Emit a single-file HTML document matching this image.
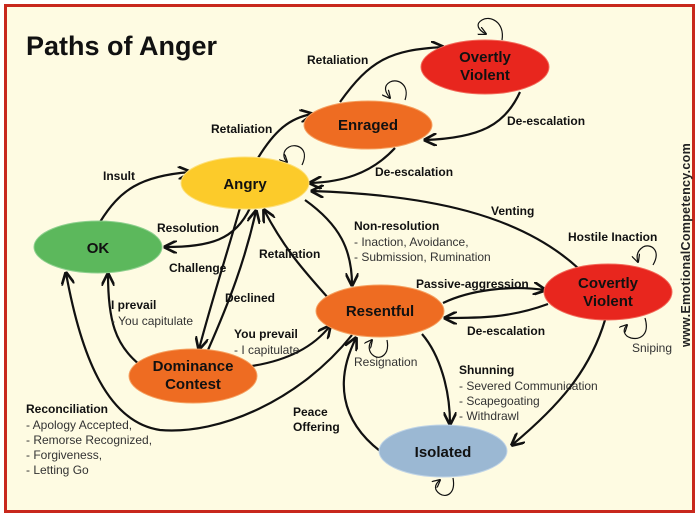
<!DOCTYPE html>
<html><head><meta charset="utf-8"><style>
html,body{margin:0;padding:0;background:#fff}
svg{display:block}
text{font-family:"Liberation Sans",Arial,sans-serif;fill:#111}
.b{font-weight:bold;font-size:12px}
.n{font-size:12px;fill:#333}
.nl{font-weight:bold;font-size:15px;text-anchor:middle}
path.e{fill:none;stroke:#111;stroke-width:2.2}
path.l{fill:none;stroke:#111;stroke-width:1.2}
</style></head><body>
<svg width="699" height="518" viewBox="0 0 699 518" xmlns="http://www.w3.org/2000/svg">
<defs>
<marker id="a" viewBox="0 0 10 10" refX="9" refY="5" markerWidth="6" markerHeight="6" orient="auto"><path d="M0,0 L10,5 L0,10" fill="none" stroke="#111" stroke-width="2"/></marker>
<marker id="s" viewBox="0 0 10 10" refX="9" refY="5" markerWidth="7" markerHeight="7" orient="auto"><path d="M0,0 L10,5 L0,10" fill="none" stroke="#111" stroke-width="1.5"/></marker>
</defs>
<rect x="0" y="0" width="699" height="518" fill="#fff"/>
<rect x="5.5" y="5.5" width="688" height="506" fill="#fefbe2" stroke="#c8281c" stroke-width="3"/>
<text x="26" y="55" style="font-weight:bold;font-size:27px">Paths of Anger</text>
<text transform="translate(690,245) rotate(-90)" style="font-weight:bold;font-size:12.5px;fill:#222;letter-spacing:0.3px" text-anchor="middle">www.EmotionalCompetency.com</text>

<g marker-end="url(#a)">
<path class="e" d="M100,222 C120,190 140,176 190,172"/>
<path class="e" d="M250,208 C235,240 210,247 165,247"/>
<path class="e" d="M258,158 C275,130 290,118 312,114"/>
<path class="e" d="M340,102 C370,60 390,50 443,47"/>
<path class="e" d="M520,92 C505,125 480,138 425,140"/>
<path class="e" d="M395,148 C370,175 340,182 310,183"/>
<path class="e" d="M578,268 C520,215 430,195 312,191"/>
<path class="e" d="M305,200 C340,225 352,250 352,285"/>
<path class="e" d="M330,300 C305,272 285,250 264,210"/>
<path class="e" d="M240,208 C225,260 212,300 199,349"/>
<path class="e" d="M208,350 C230,300 245,260 256,211"/>
<path class="e" d="M140,365 C115,345 108,320 108,274"/>
<path class="e" d="M252,366 C290,360 315,345 330,326"/>
<path class="e" d="M352,335 C300,400 220,435 160,430 C105,422 80,350 66,273"/>
<path class="e" d="M443,303 C470,290 510,285 545,290"/>
<path class="e" d="M548,304 C510,318 480,318 445,318"/>
<path class="e" d="M422,334 C440,355 450,390 450,424"/>
<path class="e" d="M380,451 C340,420 335,380 356,338"/>
<path class="e" d="M605,320 C590,370 560,405 512,445"/>
</g>
<g marker-end="url(#s)">
<path class="l" d="M502,40 C505,22 490,15 482,20 C475,24 478,30 486,34"/>
<path class="l" d="M405,100 C410,85 398,78 390,82 C383,86 385,92 390,98"/>
<path class="l" d="M302,165 C310,148 296,143 289,147 C282,151 283,158 287,162"/>
<path class="l" d="M653,265 C662,250 650,243 643,247 C637,251 636,256 638,262"/>
<path class="l" d="M645,318 C650,335 640,340 631,338 C624,336 622,330 627,325"/>
<path class="l" d="M387,340 C390,355 380,360 374,356 C368,352 368,345 372,340"/>
<path class="l" d="M453,478 C456,494 446,498 440,494 C434,490 434,485 440,480"/>
</g>

<ellipse cx="485" cy="67" rx="64" ry="27" fill="#e8261e" stroke="#f26a5a" stroke-width="1"/>
<text class="nl" x="485" y="62">Overtly</text><text class="nl" x="485" y="80">Violent</text>
<ellipse cx="368" cy="125" rx="64" ry="24" fill="#ee6c22" stroke="#f5a060" stroke-width="1"/>
<text class="nl" x="368" y="130">Enraged</text>
<ellipse cx="245" cy="183" rx="64" ry="26" fill="#fccb2a" stroke="#fde07a" stroke-width="1"/>
<text class="nl" x="245" y="189">Angry</text>
<ellipse cx="98" cy="247" rx="64" ry="26" fill="#5cb85c" stroke="#8fd08f" stroke-width="1"/>
<text class="nl" x="98" y="253">OK</text>
<ellipse cx="380" cy="311" rx="64" ry="26" fill="#ee6c22" stroke="#f5a060" stroke-width="1"/>
<text class="nl" x="380" y="316">Resentful</text>
<ellipse cx="608" cy="292" rx="64" ry="28" fill="#e8261e" stroke="#f26a5a" stroke-width="1"/>
<text class="nl" x="608" y="288">Covertly</text><text class="nl" x="608" y="306">Violent</text>
<ellipse cx="193" cy="376" rx="64" ry="27" fill="#ee6c22" stroke="#f5a060" stroke-width="1"/>
<text class="nl" x="193" y="371">Dominance</text><text class="nl" x="193" y="389">Contest</text>
<ellipse cx="443" cy="451" rx="64" ry="26" fill="#9bb8d3" stroke="#c0d4e6" stroke-width="1"/>
<text class="nl" x="443" y="457">Isolated</text>

<text class="b" x="307" y="64">Retaliation</text>
<text class="b" x="211" y="133">Retaliation</text>
<text class="b" x="507" y="125">De-escalation</text>
<text class="b" x="375" y="176">De-escalation</text>
<text class="b" x="103" y="180">Insult</text>
<text class="b" x="157" y="232">Resolution</text>
<text class="b" x="491" y="215">Venting</text>
<text class="b" x="354" y="230">Non-resolution</text>
<text class="n" x="354" y="246">- Inaction, Avoidance,</text>
<text class="n" x="354" y="261">- Submission, Rumination</text>
<text class="b" x="568" y="241">Hostile Inaction</text>
<text class="b" x="169" y="272">Challenge</text>
<text class="b" x="259" y="258">Retaliation</text>
<text class="b" x="225" y="302">Declined</text>
<text class="b" x="111" y="309">I prevail</text>
<text class="n" x="111" y="325">- You capitulate</text>
<text class="b" x="234" y="338">You prevail</text>
<text class="n" x="234" y="354">- I capitulate</text>
<text class="b" x="416" y="288">Passive-aggression</text>
<text class="b" x="467" y="335">De-escalation</text>
<text class="n" x="632" y="352">Sniping</text>
<text class="n" x="354" y="366">Resignation</text>
<text class="b" x="459" y="374">Shunning</text>
<text class="n" x="459" y="390">- Severed Communication</text>
<text class="n" x="459" y="405">- Scapegoating</text>
<text class="n" x="459" y="420">- Withdrawl</text>
<text class="b" x="293" y="416">Peace</text>
<text class="b" x="293" y="431">Offering</text>
<text class="b" x="26" y="413">Reconciliation</text>
<text class="n" x="26" y="429">- Apology Accepted,</text>
<text class="n" x="26" y="444">- Remorse Recognized,</text>
<text class="n" x="26" y="459">- Forgiveness,</text>
<text class="n" x="26" y="474">- Letting Go</text>
</svg>
</body></html>
